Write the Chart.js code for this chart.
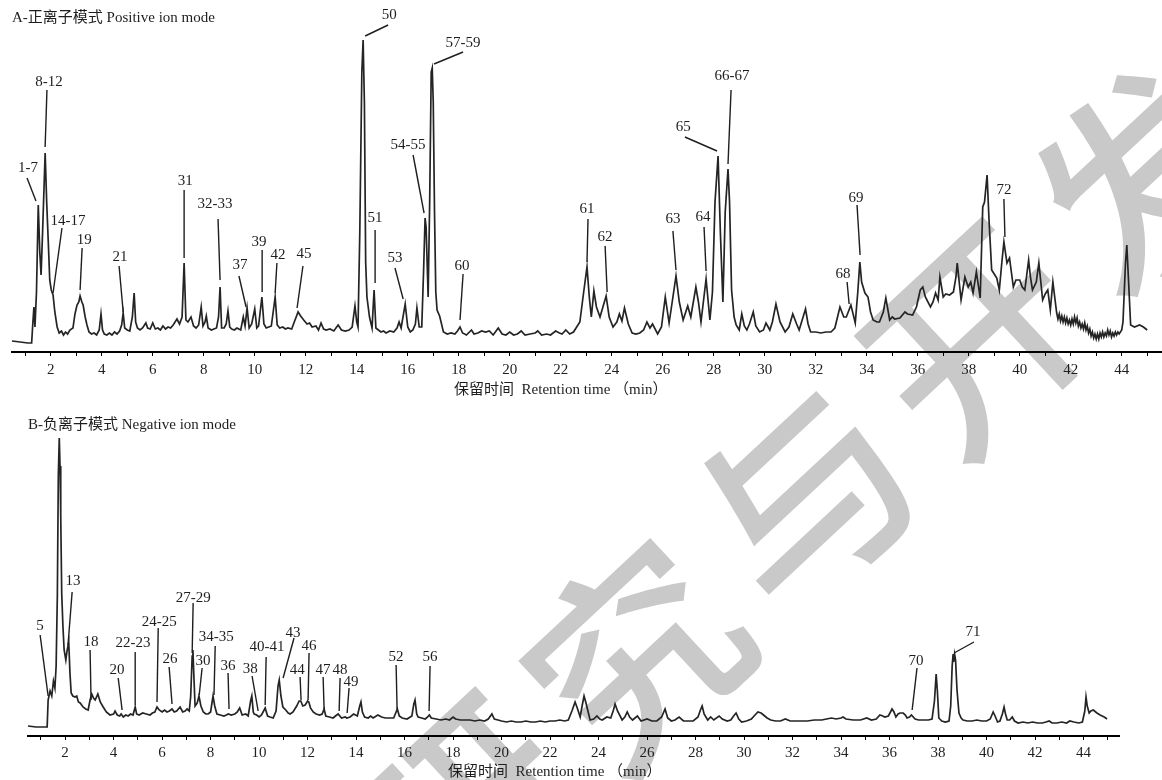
<!DOCTYPE html>
<html>
<head>
<meta charset="utf-8">
<script src="https://cdn.jsdelivr.net/npm/chart.js@4.4.1/dist/chart.umd.min.js"></script>
<style>
  html, body { margin:0; padding:0; background:#fff; width:1162px; height:780px; overflow:hidden; }
  #wrap { position:relative; width:1162px; height:780px; }
  #wm { position:absolute; left:805px; top:480px; transform:translate(-50%,-50%) rotate(-43deg);
        font-family:'Noto Sans CJK SC', sans-serif; font-weight:500; font-size:210px; color:#c9c9c9;
        white-space:nowrap; letter-spacing:22px; line-height:1; z-index:0; }
  canvas { position:absolute; left:0; z-index:1; }
  #cA { top:0; }
  #cB { top:400px; }
</style>
</head>
<body>
<div id="wrap">
  <div id="wm">研究与开发</div>
  <canvas id="cA" width="1162" height="400"></canvas>
  <canvas id="cB" width="1162" height="380"></canvas>
</div>
<script>
// ---------------- Panel A: positive ion mode (retention time, min / response) ----------------
const timeA = [0.48,0.8,1.1,1.25,1.3,1.34,1.38,1.44,1.51,1.57,1.62,1.68,1.78,1.84,1.9,1.96,2.02,2.09,2.16,2.25,2.33,2.42,2.5,2.58,2.66,2.75,2.87,2.95,3.03,3.1,3.15,3.22,3.27,3.35,3.42,3.5,3.6,3.7,3.8,3.9,3.97,4.03,4.1,4.2,4.3,4.4,4.5,4.6,4.7,4.78,4.84,4.9,5.0,5.1,5.2,5.27,5.33,5.4,5.5,5.6,5.73,5.8,5.9,6.0,6.1,6.2,6.3,6.4,6.5,6.6,6.7,6.8,6.95,7.05,7.15,7.23,7.3,7.38,7.5,7.6,7.7,7.8,7.9,7.97,8.05,8.1,8.17,8.3,8.4,8.5,8.58,8.64,8.7,8.8,8.88,8.95,9.02,9.1,9.2,9.3,9.45,9.55,9.62,9.7,9.78,9.88,10.0,10.08,10.15,10.28,10.36,10.45,10.55,10.65,10.8,10.88,10.98,11.1,11.2,11.3,11.45,11.55,11.7,11.8,11.92,12.05,12.15,12.25,12.4,12.5,12.6,12.7,12.8,12.95,13.1,13.27,13.4,13.55,13.7,13.82,13.93,14.0,14.05,14.12,14.2,14.25,14.3,14.35,14.4,14.5,14.6,14.68,14.75,14.85,14.95,15.05,15.15,15.3,15.45,15.58,15.66,15.74,15.9,16.0,16.1,16.2,16.3,16.36,16.45,16.55,16.62,16.68,16.72,16.8,16.86,16.92,16.96,17.0,17.05,17.1,17.15,17.25,17.4,17.55,17.7,17.85,17.95,18.05,18.15,18.3,18.5,18.6,18.75,18.9,19.05,19.2,19.35,19.55,19.7,19.85,20.0,20.15,20.3,20.45,20.6,20.8,21.0,21.1,21.25,21.45,21.6,21.8,21.95,22.05,22.2,22.35,22.5,22.6,22.75,22.9,23.03,23.12,23.2,23.3,23.4,23.54,23.78,23.9,24.05,24.2,24.3,24.4,24.5,24.65,24.8,24.95,25.1,25.25,25.38,25.5,25.6,25.8,25.95,26.1,26.25,26.4,26.52,26.65,26.8,26.98,27.1,27.3,27.4,27.5,27.7,27.85,27.95,28.05,28.17,28.26,28.36,28.45,28.56,28.62,28.7,28.8,28.88,29.0,29.1,29.2,29.3,29.4,29.55,29.65,29.8,29.95,30.05,30.2,30.3,30.44,30.6,30.8,30.95,31.1,31.25,31.35,31.6,31.7,31.8,32.0,32.2,32.4,32.6,32.75,32.95,33.1,33.2,33.38,33.55,33.65,33.73,33.8,33.93,34.05,34.15,34.25,34.4,34.5,34.65,34.75,34.9,35.0,35.1,35.3,35.5,35.6,35.8,35.95,36.1,36.2,36.3,36.5,36.6,36.7,36.8,36.87,37.0,37.1,37.25,37.4,37.5,37.55,37.7,37.85,37.98,38.08,38.17,38.3,38.45,38.55,38.62,38.72,38.8,38.9,39.0,39.1,39.2,39.3,39.38,39.5,39.6,39.75,39.85,40.0,40.1,40.2,40.35,40.42,40.5,40.65,40.75,40.9,41.0,41.1,41.2,41.3,41.45,41.5,41.55,41.6,41.65,41.7,41.75,41.8,41.85,41.9,41.95,42.0,42.05,42.1,42.15,42.2,42.25,42.3,42.35,42.4,42.45,42.5,42.55,42.6,42.65,42.7,42.75,42.8,42.85,42.9,42.95,43.0,43.05,43.1,43.15,43.2,43.25,43.3,43.35,43.4,43.45,43.5,43.55,43.6,43.65,43.7,43.75,43.8,43.85,43.9,44.0,44.05,44.15,44.2,44.27,44.35,44.5,44.7,44.85,45.0];
const signalA = [11,10,9,9,30,45,25,60,147,100,77,120,199,150,112,72,62,57,40,25,19,21,17,20,18,22,24,38,47,50,56,50,47,35,27,20,18,19,17,22,38,22,18,17,19,17,20,18,21,27,39,24,22,21,35,59,30,24,22,24,29,24,23,29,23,24,22,26,23,25,24,27,33,28,35,89,32,30,35,26,24,27,45,26,30,36,24,22,23,24,35,65,24,24,28,41,25,23,22,24,22,35,26,44,24,28,43,24,26,55,28,24,25,26,55,27,24,25,23,24,23,30,40,36,32,28,29,25,26,22,29,23,22,23,21,27,22,21,22,25,46,30,25,120,280,312,250,90,55,35,24,62,24,22,20,21,19,21,20,24,30,24,48,25,20,22,28,44,25,25,80,134,125,55,150,280,284,250,140,60,42,36,20,18,19,18,21,25,19,17,22,18,19,21,20,21,17,24,18,17,20,17,18,21,17,18,19,21,17,18,17,21,19,18,22,18,20,24,30,60,85,55,35,61,45,35,56,35,25,30,38,31,44,28,19,18,19,22,30,24,28,18,25,55,29,55,76,50,32,46,35,65,50,30,73,32,60,150,196,120,50,140,183,150,62,35,27,22,38,26,22,28,40,26,20,22,29,22,30,48,30,20,25,38,28,22,43,28,20,20,19,20,20,24,45,35,35,47,29,60,90,70,59,55,40,32,30,30,40,54,32,35,33,34,40,38,37,45,62,65,55,45,50,59,52,75,55,58,57,60,75,89,52,75,65,70,59,80,54,145,150,177,130,82,78,74,62,90,110,89,94,65,72,72,65,62,92,75,62,70,89,52,58,62,42,70,39,33,38,31,36,30,35,29,34,28,32,27,33,28,35,29,34,26,30,24,28,23,29,22,26,19,23,16,20,14,18,13,18,13,19,15,20,15,19,16,22,17,21,15,19,16,20,17,20,18,22,30,90,107,70,27,25,27,25,22];

// ---------------- Panel B: negative ion mode ----------------
const timeB = [0.47,0.8,1.1,1.26,1.3,1.38,1.45,1.52,1.58,1.63,1.68,1.72,1.76,1.79,1.82,1.86,1.91,1.96,2.03,2.08,2.15,2.2,2.25,2.32,2.41,2.48,2.55,2.62,2.74,2.85,2.95,3.03,3.1,3.17,3.24,3.35,3.45,3.57,3.7,3.85,4.0,4.06,4.15,4.25,4.31,4.4,4.5,4.6,4.7,4.8,4.89,4.95,5.05,5.2,5.35,5.5,5.6,5.7,5.79,5.88,6.0,6.1,6.2,6.3,6.41,6.5,6.6,6.74,6.85,6.95,7.03,7.12,7.18,7.24,7.27,7.31,7.36,7.45,7.52,7.6,7.7,7.8,7.9,8.0,8.05,8.1,8.17,8.26,8.4,8.55,8.65,8.73,8.85,9.0,9.1,9.2,9.3,9.45,9.55,9.65,9.7,9.76,9.8,9.9,10.0,10.1,10.25,10.35,10.45,10.58,10.7,10.78,10.83,10.9,10.98,11.1,11.2,11.28,11.4,11.55,11.65,11.72,11.8,11.9,12.0,12.05,12.12,12.23,12.35,12.5,12.6,12.68,12.75,12.9,13.05,13.15,13.26,13.4,13.55,13.62,13.75,13.9,14.05,14.15,14.2,14.26,14.35,14.5,14.6,14.7,14.9,15.05,15.2,15.4,15.55,15.65,15.7,15.78,15.9,16.1,16.3,16.38,16.43,16.5,16.56,16.7,16.85,16.95,17.02,17.1,17.3,17.5,17.7,17.85,18.0,18.1,18.3,18.5,18.7,18.9,19.1,19.3,19.45,19.6,19.7,19.85,20.0,20.2,20.4,20.6,20.8,21.0,21.2,21.4,21.6,21.8,22.0,22.2,22.4,22.6,22.75,22.9,23.03,23.12,23.24,23.32,23.4,23.48,23.65,23.8,23.93,24.05,24.15,24.34,24.5,24.6,24.68,24.78,24.97,25.08,25.18,25.28,25.4,25.6,25.75,26.0,26.2,26.4,26.6,26.74,26.85,27.0,27.15,27.32,27.5,27.7,27.9,28.1,28.2,28.27,28.35,28.5,28.62,28.75,28.97,29.1,29.3,29.45,29.6,29.67,29.78,29.9,30.1,30.3,30.45,30.57,30.7,30.8,30.95,31.1,31.3,31.5,31.7,31.9,32.1,32.3,32.6,32.9,33.2,33.4,33.6,33.8,34.0,34.08,34.2,34.5,34.8,35.06,35.25,35.45,35.6,35.72,35.8,35.95,36.1,36.18,36.26,36.35,36.43,36.56,36.65,36.72,36.82,36.9,37.05,37.2,37.4,37.6,37.75,37.85,37.92,37.97,38.03,38.15,38.3,38.45,38.52,38.58,38.62,38.64,38.68,38.72,38.78,38.86,38.95,39.03,39.2,39.4,39.6,39.8,40.0,40.15,40.27,40.35,40.45,40.55,40.65,40.72,40.78,40.85,40.95,41.06,41.15,41.3,41.5,41.7,41.9,42.1,42.3,42.45,42.58,42.7,42.9,43.1,43.3,43.43,43.6,43.8,43.95,44.05,44.1,44.15,44.23,44.3,44.4,44.55,44.68,44.85,44.97];
const signalB = [10,9,9,9,36,45,40,55,48,70,140,260,298,270,220,143,110,86,76,85,94,63,43,40,39,40,34,33,29,27,26,36,42,38,36,42,34,29,24,21,22,25,21,20,22,19,21,20,22,21,29,22,21,23,22,21,23,24,29,26,24,26,24,25,27,24,25,29,24,25,27,25,40,80,86,60,30,33,40,30,24,22,22,24,32,40,30,22,21,20,21,22,21,22,24,28,21,22,20,35,40,24,22,21,19,21,28,20,19,18,25,50,56,40,29,26,23,22,24,30,35,35,30,31,35,34,28,24,22,21,22,27,20,19,18,20,22,18,19,18,19,22,20,30,34,24,19,18,20,18,21,19,18,18,18,24,27,20,18,17,20,32,36,22,19,18,17,19,21,18,17,16,17,16,19,17,16,16,16,15,16,15,17,22,17,16,15,14,15,14,14,15,14,14,15,14,15,15,16,15,16,25,34,28,19,30,40,33,16,17,20,17,16,19,18,25,32,25,16,19,24,19,16,20,15,17,15,15,19,27,18,15,16,19,15,15,15,19,26,30,22,16,19,16,20,17,15,16,21,23,17,14,15,17,21,24,23,21,18,16,15,15,17,15,15,15,15,16,16,17,18,17,18,19,17,16,16,18,16,17,21,20,19,20,27,24,19,22,23,23,21,18,19,21,17,16,16,16,17,35,62,45,18,15,14,15,30,70,82,74,82,76,46,23,18,16,15,15,16,15,15,17,24,20,14,15,22,29,22,16,16,19,15,13,14,13,14,13,13,14,15,13,13,14,13,15,14,13,14,25,39,30,23,25,26,23,21,19,17];

// x-axis ranges (min) and top of the response scale
const axisA = { min: 0.48, max: 45.58, top: 322 };
const axisB = { min: 0.47, max: 45.46, top: 300 };

// ---------------- Peak labels (text, label point, leader start/end) in data units ----------------
const peakLabelsA = ['1-7','8-12','14-17','19','21','31','32-33','37','39','42','45','50','51','53','54-55','57-59','60','61','62','63','64','65','66-67','68','69','72'];
const labelPosA = [[1.11,184],[1.93,270],[2.68,131],[3.31,112],[4.72,95],[7.27,171],[8.44,148],[9.42,87],[10.17,110],[10.91,97],[11.93,98],[15.27,337],[14.72,134],[15.5,94],[16.01,207],[18.17,309],[18.13,86],[23.03,143],[23.74,115],[26.4,133],[27.58,135],[26.8,225],[28.72,276],[33.07,78],[33.58,154],[39.38,162]];
const leaderA = [[1.07,174,1.42,151],[1.85,262,1.78,205],[2.44,124,2.09,59],[3.23,104,3.15,62],[4.68,86,4.84,40],[7.23,162,7.23,94],[8.56,133,8.64,72],[9.38,76,9.66,45],[10.29,102,10.29,60],[10.87,89,10.8,59],[11.89,86,11.66,44],[15.23,327,14.33,316],[14.72,122,14.72,69],[15.5,84,15.82,53],[16.21,197,16.64,139],[18.17,300,17.03,288],[18.17,78,18.05,32],[23.07,133,23.03,90],[23.74,106,23.82,60],[26.4,121,26.52,82],[27.62,125,27.7,81],[26.87,215,28.13,201],[28.68,262,28.56,188],[33.23,70,33.31,48],[33.62,147,33.74,97],[39.38,153,39.42,115]];

const peakLabelsB = ['5','13','18','20','22-23','24-25','26','27-29','30','34-35','36','38','40-41','43','44','46','47','48','49','52','56','70','71'];
const labelPosB = [[0.97,110],[2.33,155],[3.07,94],[4.14,66],[4.8,93],[5.88,114],[6.33,77],[7.28,138],[7.69,75],[8.23,99],[8.72,70],[9.63,67],[10.33,89],[11.4,103],[11.57,66],[12.06,90],[12.64,66],[13.34,66],[13.79,54],[15.65,79],[17.05,79],[37.09,75],[39.44,104]];
const leaderB = [[0.97,101,1.3,40],[2.29,144,2.12,91],[3.03,86,3.07,36],[4.19,58,4.35,26],[4.89,84,4.89,31],[5.84,108,5.79,34],[6.29,69,6.41,32],[7.28,133,7.24,83],[7.65,68,7.53,41],[8.19,90,8.14,41],[8.72,63,8.76,27],[9.71,60,9.96,25],[10.29,79,10.25,31],[11.44,98,10.99,58],[11.69,59,11.73,36],[12.06,83,12.02,36],[12.64,59,12.68,27],[13.34,58,13.3,25],[13.71,48,13.63,23],[15.65,71,15.69,27],[17.05,70,17.01,25],[37.13,68,36.93,26],[39.48,94,38.66,83]];

const panelTitleA = 'A-正离子模式 Positive ion mode';
const panelTitleB = 'B-负离子模式 Negative ion mode';
const axisTitle = '保留时间  Retention time （min）';

// ---------------- drawing ----------------
const FONT = "'Liberation Serif', 'Noto Sans CJK SC', serif";
const INK = '#1e1e1e';

const peakLabelPlugin = {
  id: 'peakLabels',
  afterDatasetsDraw(chart, args, opts) {
    const {ctx, scales: {x, y}} = chart;
    ctx.save();
    ctx.strokeStyle = INK;
    ctx.lineWidth = 1.4;
    ctx.fillStyle = INK;
    ctx.font = "15px " + FONT;
    ctx.textAlign = 'center';
    ctx.textBaseline = 'middle';
    opts.labels.forEach((txt, i) => {
      const l = opts.leaders[i];
      ctx.beginPath();
      ctx.moveTo(x.getPixelForValue(l[0]), y.getPixelForValue(l[1]));
      ctx.lineTo(x.getPixelForValue(l[2]), y.getPixelForValue(l[3]));
      ctx.stroke();
      const p = opts.pos[i];
      ctx.fillText(txt, x.getPixelForValue(p[0]), y.getPixelForValue(p[1]));
    });
    ctx.restore();
  }
};

function makeChart(id, times, values, ax, labels, pos, leaders, title, titlePad, layoutPad, scaleHeight, tickPad, titleSuffix, titleBottom) {
  const pts = times.map((t, i) => ({x: t, y: values[i]}));
  return new Chart(document.getElementById(id), {
    type: 'line',
    data: { datasets: [{ data: pts, borderColor: '#242424', borderWidth: 1.7, pointRadius: 0, tension: 0, fill: false, clip: false }] },
    plugins: [peakLabelPlugin],
    options: {
      responsive: false,
      animation: false,
      events: [],
      layout: { padding: layoutPad },
      plugins: {
        legend: { display: false },
        tooltip: { enabled: false },
        title: { display: true, text: title, align: 'start', color: INK,
                 font: { family: FONT, size: 15, weight: 'normal', lineHeight: '16px' }, padding: titlePad },
        peakLabels: { labels, pos, leaders }
      },
      scales: {
        x: {
          type: 'linear', min: ax.min, max: ax.max,
          afterFit: s => { s.height = scaleHeight; },
          border: { display: true, color: '#000', width: 2 },
          grid: { display: true, drawOnChartArea: false, drawTicks: true, tickLength: 4, color: '#000', lineWidth: 1 },
          ticks: { stepSize: 1, autoSkip: false, maxRotation: 0, includeBounds: false, padding: tickPad, color: INK,
                   font: { family: FONT, size: 15 },
                   callback: v => (Math.round(v) % 2 === 0 ? String(Math.round(v)) : '') },
          title: { display: true, text: axisTitle + titleSuffix, color: INK,
                   font: { family: FONT, size: 15, lineHeight: '16px' }, padding: { top: 0, bottom: titleBottom } }
        },
        y: { display: false, min: 0, max: ax.top }
      }
    }
  });
}

makeChart('cA', timeA, signalA, axisA, peakLabelsA, labelPosA, leaderA, panelTitleA,
  { top: 10, bottom: 4 }, { left: 12, right: 0, top: 0, bottom: 0 }, 48, 5, '\u3000\u3000\u3000\u3000', 2);
makeChart('cB', timeB, signalB, axisB, peakLabelsB, labelPosB, leaderB, panelTitleB,
  { top: 17, bottom: 3 }, { left: 28, right: 43, top: 0, bottom: 0 }, 44, 4, '\u3000\u3000\u3000', 0);
</script>
</body>
</html>
